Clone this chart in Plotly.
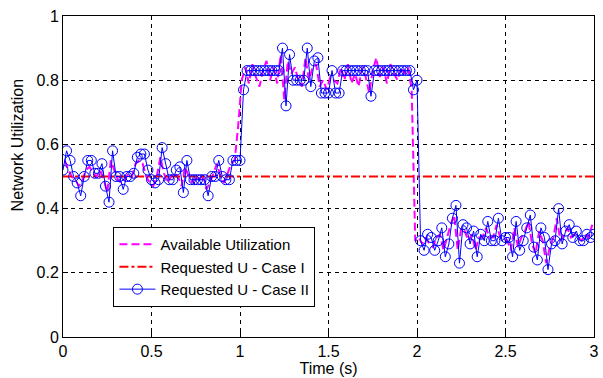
import plotly.graph_objects as go

# Requested U - Case II (blue circles), sampled every 0.02 s from 0 to 3 s
req_case2 = [
    0.52, 0.58, 0.55, 0.50, 0.48, 0.44, 0.50, 0.55, 0.55, 0.51,
    0.51, 0.54, 0.47, 0.42, 0.58, 0.50, 0.50, 0.46, 0.50, 0.50,
    0.51, 0.56, 0.57, 0.57, 0.52, 0.49, 0.48, 0.49, 0.59, 0.54,
    0.49, 0.49, 0.52, 0.53, 0.45, 0.55, 0.49, 0.49, 0.49, 0.49,
    0.49, 0.44, 0.50, 0.50, 0.55, 0.50, 0.49, 0.49, 0.55, 0.55,
    0.55,
    0.77, 0.83, 0.83, 0.83, 0.83, 0.83, 0.83, 0.83, 0.83, 0.83,
    0.83, 0.90, 0.72, 0.88, 0.80, 0.80, 0.80, 0.80, 0.90, 0.78,
    0.86, 0.87, 0.76, 0.76, 0.76, 0.83, 0.76, 0.76, 0.83, 0.83,
    0.83, 0.83, 0.83, 0.83, 0.83, 0.83, 0.75, 0.83, 0.83, 0.83,
    0.83, 0.83, 0.83, 0.83, 0.83, 0.83, 0.83, 0.83, 0.77,
    0.80,
    0.30, 0.27, 0.32, 0.31, 0.27, 0.30, 0.34, 0.25, 0.29, 0.37,
    0.41, 0.23, 0.35, 0.34, 0.29, 0.33, 0.25, 0.32, 0.30, 0.36,
    0.30, 0.30, 0.37, 0.30, 0.31, 0.31, 0.25, 0.36, 0.27, 0.30,
    0.34, 0.38, 0.28, 0.24, 0.34, 0.31, 0.21, 0.29, 0.30, 0.40,
    0.29, 0.33, 0.35, 0.31, 0.33, 0.30, 0.30, 0.32, 0.31, 0.32,
]
t_req = [round(0.02 * i, 2) for i in range(len(req_case2))]

# Available Utilization (magenta dashed), sampled at 0.01, 0.03, ..., 2.99 s
available = [
    0.55, 0.52, 0.50, 0.49, 0.47, 0.49, 0.52, 0.53, 0.51, 0.50,
    0.52, 0.49, 0.45, 0.55, 0.52, 0.49, 0.48, 0.49, 0.51, 0.50,
    0.54, 0.55, 0.54, 0.50, 0.48, 0.47, 0.50, 0.56, 0.51, 0.48,
    0.50, 0.51, 0.50, 0.47, 0.53, 0.50, 0.48, 0.50, 0.49, 0.51,
    0.46, 0.48, 0.51, 0.54, 0.50, 0.48, 0.51, 0.54, 0.55,
    0.66, 0.80,
    0.84, 0.79, 0.85, 0.81, 0.78, 0.83, 0.86, 0.80, 0.84, 0.79,
    0.88, 0.74, 0.86, 0.82, 0.84, 0.80, 0.78, 0.87, 0.80, 0.84,
    0.85, 0.78, 0.80, 0.77, 0.81, 0.80, 0.79, 0.84, 0.80, 0.85,
    0.79, 0.82, 0.78, 0.84, 0.81, 0.76, 0.83, 0.87, 0.81, 0.84,
    0.79, 0.85, 0.82, 0.80, 0.84, 0.82, 0.84, 0.77,
    0.30,
    0.31, 0.29, 0.31, 0.29, 0.28, 0.31, 0.32, 0.27, 0.31, 0.35,
    0.38, 0.27, 0.34, 0.33, 0.30, 0.32, 0.27, 0.31, 0.31, 0.34,
    0.31, 0.31, 0.35, 0.31, 0.31, 0.30, 0.27, 0.34, 0.28, 0.31,
    0.33, 0.36, 0.29, 0.26, 0.33, 0.30, 0.23, 0.28, 0.31, 0.37,
    0.30, 0.32, 0.34, 0.31, 0.32, 0.31, 0.30, 0.32, 0.31, 0.35,
]
t_avail = [round(0.01 + 0.02 * i, 2) for i in range(len(available))]

# Requested U - Case I (constant)
t_case1 = [0, 3]
req_case1 = [0.5, 0.5]

names = ["Available Utilization", "Requested U - Case I", "Requested U - Case II"]
x_ticks = [0, 0.5, 1, 1.5, 2, 2.5, 3]
x_tick_text = ["0", "0.5", "1", "1.5", "2", "2.5", "3"]
y_ticks = [0, 0.2, 0.4, 0.6, 0.8, 1]
y_tick_text = ["0", "0.2", "0.4", "0.6", "0.8", "1"]
x_title = "Time (s)"
y_title = "Network Utilization"

FONT = "Liberation Sans, Arial, sans-serif"

fig = go.Figure()
fig.add_trace(go.Scatter(
    x=t_avail, y=available, mode="lines", name=names[0],
    line=dict(color="#FF00FF", width=2, dash="8px,4px"),
))
fig.add_trace(go.Scatter(
    x=t_case1, y=req_case1, mode="lines", name=names[1],
    line=dict(color="#FF0000", width=2, dash="9px,3px,3px,3px"),
))
fig.add_trace(go.Scatter(
    x=t_req, y=req_case2, mode="lines+markers", name=names[2],
    line=dict(color="#0000FF", width=1),
    marker=dict(symbol="circle-open", size=10, color="#0000FF",
                line=dict(width=1, color="#0000FF")),
))

axis_common = dict(
    showline=True, linecolor="black", linewidth=1, mirror=True,
    showgrid=True, gridcolor="black", gridwidth=1, griddash="4px,4px",
    zeroline=False, ticks="inside", ticklen=5, tickcolor="black",
    tickfont=dict(family=FONT, size=16, color="black"),
)

fig.update_layout(
    width=603, height=378,
    margin=dict(l=63, r=4, t=16, b=41),
    paper_bgcolor="white", plot_bgcolor="white",
    font=dict(family=FONT, color="black"),
    showlegend=True,
    legend=dict(
        x=0.095, y=0.343, xanchor="left", yanchor="top",
        bgcolor="white", bordercolor="black", borderwidth=1,
        font=dict(size=15, color="black"),
        tracegroupgap=0, itemwidth=36,
    ),
    xaxis=dict(
        range=[0, 3], tickvals=x_ticks, ticktext=x_tick_text,
        ticklabeloverflow="allow",
        title=dict(text=x_title, font=dict(size=16), standoff=3),
        **axis_common,
    ),
    yaxis=dict(
        range=[0, 1], tickvals=y_ticks, ticktext=y_tick_text,
        ticklabeloverflow="allow",
        **axis_common,
    ),
    annotations=[dict(
        text=y_title, textangle=-90, showarrow=False,
        xref="paper", yref="paper", x=-0.086, y=0.598,
        xanchor="center", yanchor="middle",
        font=dict(family=FONT, size=16, color="black"),
    )],
)

fig.write_html(
    "out.html",
    config={"displayModeBar": False},
    post_script="document.body.style.margin='0';document.body.style.overflow='hidden';",
)
